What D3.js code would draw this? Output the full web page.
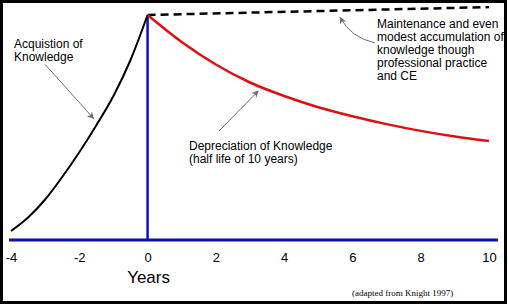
<!DOCTYPE html>
<html>
<head>
<meta charset="utf-8">
<script src="https://cdn.jsdelivr.net/npm/d3@7"></script>
<style>
  body { margin: 0; background: #fff; }
  svg text { font-family: "Liberation Sans", Arial, sans-serif; fill: #000; }
</style>
</head>
<body>
<div class="knowledge-chart"></div>
<script>
// years before 0 -> acquisition, after 0 -> depreciation / maintenance
const acquisitionYears = [-4, -3.5, -3, -2.5, -2, -1.5, -1, -0.5, 0];
const acquisitionVals  = [4, 10, 18, 28, 39, 51, 64, 80, 100];

const depreciationYears = [0, 1, 2, 3, 4, 5, 6, 7, 8, 9, 10];
const depreciationVals  = [100, 88, 78, 70, 64, 59, 55, 51.5, 48.5, 46, 44];

const maintenanceYears = [0, 10];
const maintenanceVals  = [100, 103.5];

const tickYears = [-4, -2, 0, 2, 4, 6, 8, 10];

const width = 508,
      height = 305;

const xScale = d3.scaleLinear()
                 .domain([-4, 10])
                 .range([11, 489]);

const yScale = d3.scaleLinear()
                 .domain([0, 100])
                 .range([240, 15]);

const svg = d3.select('.knowledge-chart')
              .append('svg')
              .attr('width', width)
              .attr('height', height);

svg.append('defs')
   .append('marker')
   .attr('id', 'arrow')
   .attr('viewBox', '0 0 10 10')
   .attr('refX', 9)
   .attr('refY', 5)
   .attr('markerWidth', 7)
   .attr('markerHeight', 7)
   .attr('markerUnits', 'userSpaceOnUse')
   .attr('orient', 'auto')
   .append('path')
   .attr('d', 'M0,0 L10,5 L0,10 L3,5 Z')
   .attr('fill', '#6e6e6e');

const line = d3.line()
               .x(d => xScale(d[0]))
               .y(d => yScale(d[1]))
               .curve(d3.curveMonotoneX);

// blue axes
svg.append('line')
   .attr('x1', 9).attr('y1', yScale(0))
   .attr('x2', 498).attr('y2', yScale(0))
   .attr('stroke', '#1010a8')
   .attr('stroke-width', 3);

svg.append('line')
   .attr('x1', xScale(0)).attr('y1', yScale(100))
   .attr('x2', xScale(0)).attr('y2', yScale(0))
   .attr('stroke', '#1010b8')
   .attr('stroke-width', 2.5);

svg.append('path')
   .datum(maintenanceYears.map((y, i) => [y, maintenanceVals[i]]))
   .attr('d', line)
   .attr('fill', 'none')
   .attr('stroke', '#000')
   .attr('stroke-width', 2.5)
   .attr('stroke-dasharray', '8,5');

svg.append('path')
   .datum(depreciationYears.map((y, i) => [y, depreciationVals[i]]))
   .attr('d', line)
   .attr('fill', 'none')
   .attr('stroke', '#e01010')
   .attr('stroke-width', 2.5);

svg.append('path')
   .datum(acquisitionYears.map((y, i) => [y, acquisitionVals[i]]))
   .attr('d', line)
   .attr('fill', 'none')
   .attr('stroke', '#000')
   .attr('stroke-width', 2);

const xAxis = d3.axisBottom(xScale)
                .tickValues(tickYears)
                .tickFormat(d => String(d))
                .tickSize(0)
                .tickPadding(13);

const gx = svg.append('g')
              .attr('transform', 'translate(0,' + yScale(0) + ')')
              .call(xAxis);
gx.select('.domain').remove();
gx.selectAll('text')
  .attr('font-family', '"Liberation Sans", Arial, sans-serif')
  .attr('font-size', 13)
  .attr('fill', '#000');

svg.append('text')
   .attr('x', xScale(0) + 1)
   .attr('y', 283)
   .attr('text-anchor', 'middle')
   .attr('font-size', 17)
   .text('Years');

// annotations
const arrows = [
  [[-3.0, 78], [-1.58, 54]],
  [[2.09, 48.4], [3.24, 66.2]]
];

svg.selectAll('line.arrow')
   .data(arrows)
   .enter()
   .append('line')
   .attr('class', 'arrow')
   .attr('x1', d => xScale(d[0][0]))
   .attr('y1', d => yScale(d[0][1]))
   .attr('x2', d => xScale(d[1][0]))
   .attr('y2', d => yScale(d[1][1]))
   .attr('stroke', '#6e6e6e')
   .attr('stroke-width', 1)
   .attr('marker-end', 'url(#arrow)');

svg.append('path')
   .attr('d', 'M' + xScale(6.66) + ',' + yScale(87.6) +
              ' Q' + xScale(5.95) + ',' + yScale(90) +
              ' ' + xScale(5.64) + ',' + yScale(98.9))
   .attr('fill', 'none')
   .attr('stroke', '#6e6e6e')
   .attr('stroke-width', 1)
   .attr('marker-end', 'url(#arrow)');

const notes = [
  {x: 14, y: 48, lines: ['Acquistion of', 'Knowledge']},
  {x: 189, y: 150, lines: ['Depreciation of Knowledge', '(half life of 10 years)']},
  {x: 377, y: 28, lines: ['Maintenance and even', 'modest accumulation of', 'knowledge though', 'professional practice', 'and CE']}
];

notes.forEach(n => {
  svg.append('text')
     .attr('x', n.x)
     .attr('y', n.y)
     .attr('font-size', 12)
     .selectAll('tspan')
     .data(n.lines)
     .enter()
     .append('tspan')
     .attr('x', n.x)
     .attr('dy', (d, i) => i ? 13 : 0)
     .text(d => d);
});

svg.append('text')
   .attr('x', 352)
   .attr('y', 296)
   .style('font-family', '"Liberation Serif", "Times New Roman", serif')
   .attr('font-size', 9)
   .text('(adapted from Knight 1997)');

// frame
svg.append('rect')
   .attr('x', 1.5).attr('y', 1.5)
   .attr('width', width - 4).attr('height', height - 4)
   .attr('fill', 'none')
   .attr('stroke', '#000')
   .attr('stroke-width', 3);
</script>
</body>
</html>
